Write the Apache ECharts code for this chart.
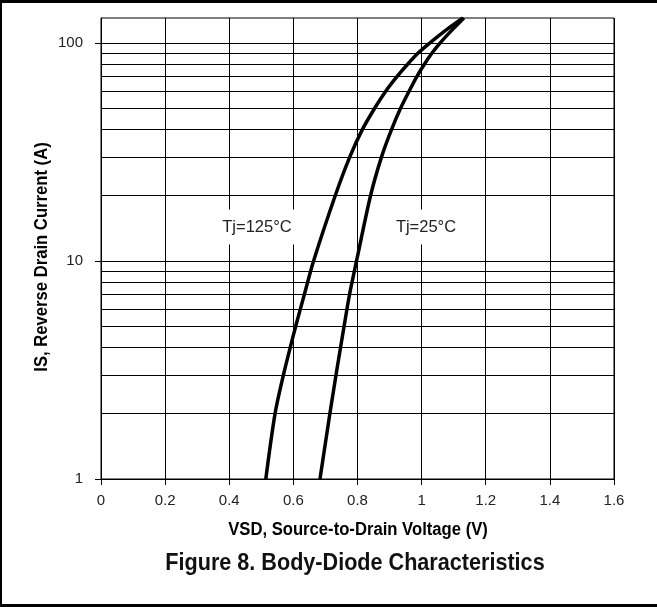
<!DOCTYPE html>
<html>
<head>
<meta charset="utf-8">
<script src="https://cdn.jsdelivr.net/npm/echarts@6/dist/echarts.min.js"></script>
<style>html,body{margin:0;padding:0;background:#fff}#c{width:657px;height:607px}</style>
</head>
<body>
<div id="c"></div>
<script>
// Data
const curve125V = [0.514, 0.543, 0.569, 0.590, 0.607, 0.634, 0.663, 0.731, 0.776, 0.815, 0.853, 0.888, 0.923, 0.957, 0.990, 1.026, 1.078, 1.129];
const curve125I = [1, 2, 3, 4, 5, 7, 10, 20, 30, 40, 50, 60, 70, 80, 90, 100, 115, 130];
const curve25V = [0.683, 0.714, 0.733, 0.747, 0.758, 0.775, 0.797, 0.841, 0.875, 0.906, 0.934, 0.961, 0.985, 1.009, 1.033, 1.058, 1.096, 1.132];
const curve25I = [1, 2, 3, 4, 5, 7, 10, 20, 30, 40, 50, 60, 70, 80, 90, 100, 115, 130];
const yMajorTicks = [1, 10, 100];
const yMinorGrid = [2, 3, 4, 5, 6, 7, 8, 9, 20, 30, 40, 50, 60, 70, 80, 90];
const xMin = 0, xMax = 1.6, xStep = 0.2;
const yMin = 1, yMax = 130;
const label125 = 'Tj=125°C';
const label25 = 'Tj=25°C';
const xName = 'VSD, Source-to-Drain Voltage (V)';
const yName = 'IS, Reverse Drain Current (A)';
const figTitle = 'Figure 8. Body-Diode Characteristics';

const pairs = (xs, ys) => xs.map((x, i) => [x, ys[i]]);
const chart = echarts.init(document.getElementById('c'), null, {renderer: 'canvas'});
const sans = '"Liberation Sans", Arial, sans-serif';

chart.setOption({
  backgroundColor: '#fff',
  animation: false,
  grid: {left: 101, right: 43, top: 18, bottom: 128, show: true, borderColor: '#000', borderWidth: 1},
  xAxis: {
    type: 'value', min: xMin, max: xMax, interval: xStep,
    axisLine: {show: true, lineStyle: {color: '#000', width: 1}},
    axisTick: {show: true, inside: false, length: 6, lineStyle: {color: '#000'}},
    axisLabel: {fontFamily: sans, fontSize: 15, color: '#222', margin: 14,
      formatter: v => String(Math.round(v * 10) / 10)},
    splitLine: {show: true, lineStyle: {color: '#000', width: 1}}
  },
  yAxis: {
    type: 'log', logBase: 10, min: yMin, max: yMax,
    axisLine: {show: true, lineStyle: {color: '#000', width: 1}},
    axisTick: {show: true, inside: false, length: 6, lineStyle: {color: '#000'}, customValues: yMajorTicks},
    axisLabel: {fontFamily: sans, fontSize: 15, color: '#222', margin: 18, customValues: yMajorTicks,
      formatter: v => (yMajorTicks.indexOf(Math.round(v)) >= 0 ? String(Math.round(v)) : '')},
    splitLine: {show: true, lineStyle: {color: '#000', width: 1}}
  },
  series: [
    {
      type: 'line', data: pairs(curve125V, curve125I), smooth: 0.3, symbol: 'none',
      lineStyle: {color: '#000', width: 3.5}, z: 5,
      markLine: {
        silent: true, symbol: 'none', label: {show: false},
        lineStyle: {color: '#000', width: 1, type: 'solid'},
        data: yMinorGrid.map(v => ({yAxis: v}))
      }
    },
    {
      type: 'line', data: pairs(curve25V, curve25I), smooth: 0.3, symbol: 'none',
      lineStyle: {color: '#000', width: 3.5}, z: 5
    }
  ],
  graphic: [
    {type: 'text', x: 257, y: 227, z: 100, style: {text: label125, fontFamily: sans, fontSize: 16.5, fill: '#222',
      align: 'center', verticalAlign: 'middle', backgroundColor: '#fff', padding: [9, 3]}},
    {type: 'text', x: 426, y: 227, z: 100, style: {text: label25, fontFamily: sans, fontSize: 16.5, fill: '#222',
      align: 'center', verticalAlign: 'middle', backgroundColor: '#fff', padding: [9, 3]}},
    {type: 'text', x: 358, y: 530, scaleX: 0.925, z: 100, style: {text: xName, fontFamily: sans, fontWeight: 'bold', fontSize: 18, fill: '#000',
      align: 'center', verticalAlign: 'middle'}},
    {type: 'text', x: 42, y: 257, rotation: Math.PI / 2, scaleX: 0.925, z: 100, style: {text: yName, fontFamily: sans, fontWeight: 'bold', fontSize: 18, fill: '#000',
      align: 'center', verticalAlign: 'middle'}},
    {type: 'text', x: 355, y: 563, scaleX: 0.9, z: 100, style: {text: figTitle, fontFamily: sans, fontWeight: 'bold', fontSize: 24, fill: '#111',
      align: 'center', verticalAlign: 'middle'}},
    {type: 'rect', shape: {x: 0, y: 0, width: 657, height: 3}, style: {fill: '#000'}, z: 100},
    {type: 'rect', shape: {x: 0, y: 0, width: 2, height: 607}, style: {fill: '#000'}, z: 100},
    {type: 'rect', shape: {x: 0, y: 604, width: 657, height: 3}, style: {fill: '#000'}, z: 100}
  ]
});
</script>
</body>
</html>
